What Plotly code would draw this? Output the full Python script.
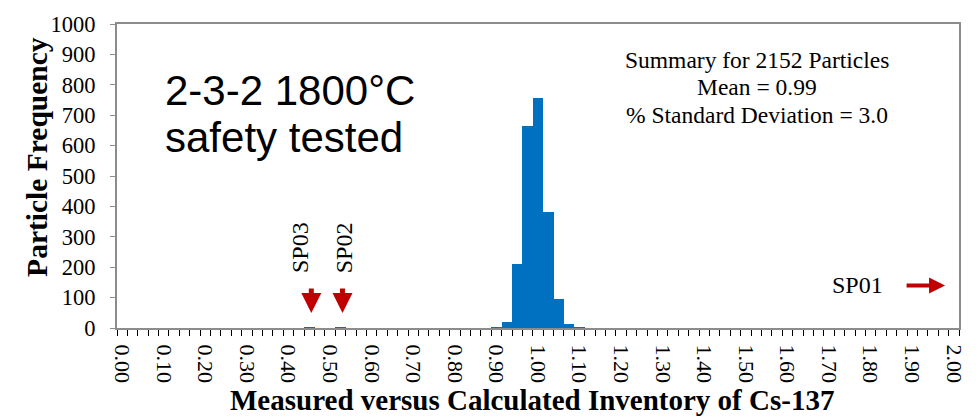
import plotly.graph_objects as go

# Histogram bins: width 0.025 from 0.000 to 2.000 (81 categories)
bin_width = 0.025
bins = [round(i * bin_width, 3) for i in range(81)]

# Occupied bins and their particle counts
occupied_bins = [0.450, 0.525, 0.900, 0.925, 0.950, 0.975, 1.000, 1.025, 1.050, 1.075, 1.100]
counts = [1, 1, 2, 21, 210, 665, 757, 383, 96, 13, 2]

# Axis labels
x_tick_vals = [round(i * 0.1, 1) for i in range(21)]
x_tick_text = [f"{v:.2f}" for v in x_tick_vals]
y_tick_vals = list(range(0, 1001, 100))

# Summary statistics text
summary_lines = ["Summary for 2152 Particles", "Mean = 0.99", "% Standard Deviation = 3.0"]

# Out-of-family particles (SP01 lies beyond the axis range)
outlier_labels = ["SP03", "SP02"]
outlier_bins = [0.450, 0.525]

freq = dict(zip(bins, [0] * len(bins)))
for b, c in zip(occupied_bins, counts):
    freq[b] = c

serif = "Liberation Serif"
sans = "Liberation Sans"
axis_grey = "#8c8c8c"
red = "#c00000"

fig = go.Figure()
fig.add_trace(go.Bar(
    x=list(freq.keys()), y=list(freq.values()),
    width=bin_width, marker=dict(color="#0070c0", line=dict(width=0)),
    showlegend=False, hoverinfo="x+y",
))

edges = [round(-bin_width / 2 + k * bin_width, 4) for k in range(len(bins) + 1)]

fig.update_layout(
    width=979, height=418,
    margin=dict(l=117, r=18, t=21, b=90),
    paper_bgcolor="white", plot_bgcolor="white",
    bargap=0,
    xaxis=dict(
        range=[-bin_width / 2, 2 + bin_width / 2],
        tickmode="array", tickvals=x_tick_vals, ticktext=x_tick_text,
        tickangle=90, ticks="", ticklabelstandoff=10,
        tickfont=dict(family=serif, size=22, color="black"),
        showline=True, linecolor=axis_grey, linewidth=2, mirror=True,
        showgrid=False, zeroline=False,
        minor=dict(tickmode="array", tickvals=edges, ticks="outside",
                   ticklen=6, tickwidth=1, tickcolor="black", showgrid=False),
    ),
    yaxis=dict(
        range=[0, 1000], tickmode="array", tickvals=y_tick_vals,
        ticks="outside", ticklen=5, tickcolor=axis_grey, ticklabelstandoff=10,
        tickfont=dict(family=serif, size=22.5, color="black"),
        showline=True, linecolor=axis_grey, linewidth=2, mirror=True,
        showgrid=False, zeroline=False,
    ),
)


def px_x(p):
    return (p - 117) / 844


def px_y(p):
    return (328 - p) / 307


annotations = [
    # axis titles
    dict(text="<b>Particle Frequency</b>", xref="paper", yref="paper",
         x=px_x(36), y=px_y(155), xanchor="center", yanchor="middle",
         textangle=-90, showarrow=False,
         font=dict(family=serif, size=29.5, color="black")),
    dict(text="<b>Measured versus Calculated Inventory of Cs-137</b>",
         xref="paper", yref="paper", x=px_x(533), y=px_y(418),
         xanchor="center", yanchor="bottom", borderpad=0,
         showarrow=False, font=dict(family=serif, size=29, color="black")),
    # sample description
    dict(text="2-3-2 1800°C", xref="paper", yref="paper",
         x=px_x(163), y=px_y(62), xanchor="left", yanchor="top",
         showarrow=False, font=dict(family=sans, size=42, color="black")),
    dict(text="safety tested", xref="paper", yref="paper",
         x=px_x(163), y=px_y(110), xanchor="left", yanchor="top",
         showarrow=False, font=dict(family=sans, size=42, color="black")),
    # SP01 beyond the axis range
    dict(text="SP01", x=1.768, y=140, showarrow=False,
         font=dict(family=serif, size=24, color="black")),
    dict(text="", x=1.979, y=140, ax=-40, ay=0, showarrow=True,
         arrowhead=2, arrowsize=0.8, arrowwidth=4, arrowcolor=red),
]

for line, yc in zip(summary_lines, [57, 85, 113]):
    annotations.append(dict(text=line, xref="paper", yref="paper",
                            x=px_x(759), y=px_y(yc), xanchor="center",
                            yanchor="middle", showarrow=False,
                            font=dict(family=serif, size=23.5, color="black")))

for name, b, dx in zip(outlier_labels, outlier_bins, [-10, 3]):
    annotations.append(dict(text=name, x=b, y=264, textangle=-90,
                            xshift=dx, showarrow=False,
                            font=dict(family=serif, size=24, color="black")))
    annotations.append(dict(text="", x=b, y=49, ax=0, ay=-26, showarrow=True,
                            xshift=2, arrowhead=2, arrowsize=0.8, arrowwidth=5,
                            arrowcolor=red))

fig.update_layout(annotations=annotations)
fig.write_html("out.html")
